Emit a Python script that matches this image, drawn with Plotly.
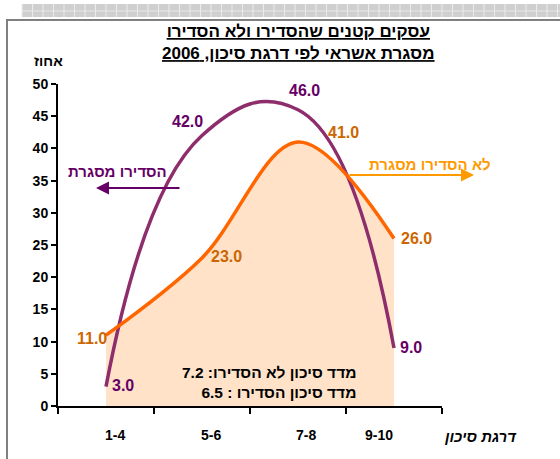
import plotly.graph_objects as go

categories = ["1-4", "5-6", "7-8", "9-10"]
arranged = [3.0, 42.0, 46.0, 9.0]        # הסדירו מסגרת
not_arranged = [11.0, 23.0, 41.0, 26.0]  # לא הסדירו מסגרת
y_ticks = list(range(0, 51, 5))

title_lines = ["עסקים קטנים שהסדירו ולא הסדירו", "מסגרת אשראי לפי דרגת סיכון, 2006"]
y_title = "אחוז"
x_title = "דרגת סיכון"
arranged_name = "הסדירו מסגרת"
not_arranged_name = "לא הסדירו מסגרת"
index_lines = ["מדד סיכון לא הסדירו: 7.2", "מדד סיכון הסדירו : 6.5"]

W, H = 560, 459
L, R, T, B = 58, 442, 84, 406
FONT = "Liberation Sans, Arial, sans-serif"
PURPLE_LINE = "#8E2D6B"
PURPLE_TEXT = "#660066"
ORANGE_LINE = "#FF6600"
ORANGE_TEXT = "#CC6600"
ORANGE_ANN = "#FF9900"
PEACH = "#FFE2C8"


def px(x):
    return (x - L) / (R - L)


def py(y):
    return (B - y) / (B - T)


def pann(x, y, text, size, color, xanchor="center", **kw):
    return dict(x=px(x), y=py(y), xref="paper", yref="paper", text=text, showarrow=False,
                xanchor=xanchor, yanchor="middle", font=dict(family=FONT, size=size, color=color), **kw)


xs = list(range(len(categories)))
fig = go.Figure()
# peach area (straight and smoothed, union)
fig.add_trace(go.Scatter(x=xs, y=not_arranged, mode="lines", line=dict(width=0, color=PEACH),
                         fill="tozeroy", fillcolor=PEACH, hoverinfo="skip", showlegend=False))
fig.add_trace(go.Scatter(x=xs, y=not_arranged, mode="lines", line=dict(width=0, color=PEACH, shape="spline", smoothing=1),
                         fill="tozeroy", fillcolor=PEACH, hoverinfo="skip", showlegend=False))
fig.add_trace(go.Scatter(x=xs, y=arranged, mode="lines",
                         line=dict(color=PURPLE_LINE, width=3.5, shape="spline", smoothing=1.3),
                         showlegend=False))
fig.add_trace(go.Scatter(x=xs, y=not_arranged, mode="lines",
                         line=dict(color=ORANGE_LINE, width=3.5, shape="spline", smoothing=1),
                         showlegend=False))

ann = []
# data labels
p_off = [(17, 1), (-15, 14), (6, 19), (17, 1)]
o_off = [(-14, -3), (24, 1), (45, 9), (22, 0)]
for i, v in enumerate(arranged):
    ann.append(dict(x=xs[i], y=v, xref="x", yref="y", text=f"<b>{v:.1f}</b>", showarrow=False,
                    xanchor="center", yanchor="middle",
                    xshift=p_off[i][0], yshift=p_off[i][1],
                    font=dict(family=FONT, size=16, color=PURPLE_TEXT)))
for i, v in enumerate(not_arranged):
    ann.append(dict(x=xs[i], y=v, xref="x", yref="y", text=f"<b>{v:.1f}</b>", showarrow=False,
                    xanchor="center", yanchor="middle",
                    xshift=o_off[i][0], yshift=o_off[i][1],
                    font=dict(family=FONT, size=16, color=ORANGE_TEXT)))

# category labels
cat_shift = [9, 9, 8, -15]
for i, c in enumerate(categories):
    ann.append(dict(x=xs[i], y=py(435), xref="x", yref="paper", text=f"<b>{c}</b>", showarrow=False,
                    xanchor="center", yanchor="middle",
                    xshift=cat_shift[i], font=dict(family=FONT, size=14, color="black")))

# titles
ann.append(pann(298, 42, "<br>".join(f"<b><u>{t}</u></b>" for t in title_lines), 17, "black", align="center"))
ann.append(pann(48, 61, f"<b>{y_title}</b>", 14, "black"))
ann.append(pann(480, 436, f"<b><i>{x_title}</i></b>", 15, "black"))
ann.append(pann(358, 382, "<br>".join(f"<b>{t}</b>" for t in index_lines), 15.5, "black",
                xanchor="right", align="right"))

# series name labels with arrows
ann.append(pann(117, 171, f"<b>{arranged_name}</b>", 15, PURPLE_TEXT))
ann.append(dict(x=px(96), y=py(188), xref="paper", yref="paper", ax=85, ay=0,
                axref="pixel", ayref="pixel", text="", showarrow=True, arrowhead=2, arrowsize=1.3,
                arrowwidth=2, arrowcolor=PURPLE_TEXT))
ann.append(pann(430, 164, f"<b>{not_arranged_name}</b>", 15, ORANGE_ANN))
ann.append(dict(x=px(474), y=py(175), xref="paper", yref="paper", ax=-126, ay=0,
                axref="pixel", ayref="pixel", text="", showarrow=True, arrowhead=2, arrowsize=1.3,
                arrowwidth=2, arrowcolor=ORANGE_ANN))

# decorative frame and top band
shapes = [
    dict(type="rect", xref="paper", yref="paper", x0=px(22), x1=px(W + 5), y0=py(17), y1=py(4),
         fillcolor="#CFCFCF", line=dict(width=0), layer="below"),
    dict(type="line", xref="paper", yref="paper", x0=px(22), x1=px(W + 5), y0=py(11), y1=py(11),
         line=dict(color="#E8E8E8", width=1)),
    dict(type="path", xref="paper", yref="paper", path=" ".join(
        f"M{px(22 + k * 10.5)},{py(4)} L{px(22 + k * 10.5)},{py(17)}" for k in range(52)),
         line=dict(color="#EBEBEB", width=1)),
    dict(type="path", xref="paper", yref="paper",
         path=f"M{px(7)},{py(H + 5)} L{px(7)},{py(20)} L{px(W + 5)},{py(20)}",
         line=dict(color="#808080", width=2)),
]

fig.update_layout(
    width=W, height=H, margin=dict(l=L, r=W - R, t=T, b=H - B),
    paper_bgcolor="white", plot_bgcolor="white", showlegend=False,
    annotations=ann, shapes=shapes,
    xaxis=dict(type="linear", range=[-0.5, 3.5], tickvals=[-0.5, 0.5, 1.5, 2.5, 3.5],
               showticklabels=False, ticks="outside", ticklen=6, tickwidth=2, tickcolor="black",
               showline=True, linecolor="black", linewidth=2, showgrid=False, zeroline=False),
    yaxis=dict(range=[0, 50], tickvals=y_ticks, ticktext=[f"<b>{t}</b>" for t in y_ticks],
               ticks="outside", ticklen=5, tickwidth=1.5, tickcolor="black",
               tickfont=dict(family=FONT, size=14, color="black"),
               showline=True, linecolor="black", linewidth=2, showgrid=False, zeroline=False),
)
fig.write_html("out.html", config={"displayModeBar": False},
               post_script="document.body.style.margin='0';document.body.style.overflow='hidden';")
